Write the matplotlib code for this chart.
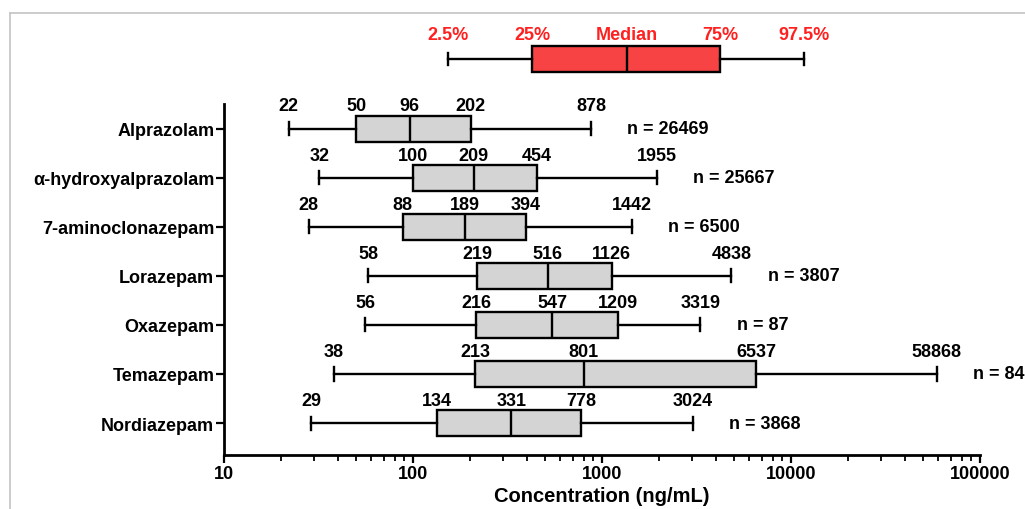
import matplotlib
matplotlib.use("Agg")
import matplotlib.pyplot as plt
from matplotlib.lines import Line2D

plt.rcParams['font.family'] = ['Liberation Sans', 'DejaVu Sans']
plt.rcParams['font.weight'] = 'bold'

drugs = ["Alprazolam", "α-hydroxyalprazolam", "7-aminoclonazepam", "Lorazepam",
         "Oxazepam", "Temazepam", "Nordiazepam"]
p2_5 = [22, 32, 28, 58, 56, 38, 29]
p25 = [50, 100, 88, 219, 216, 213, 134]
median = [96, 209, 189, 516, 547, 801, 331]
p75 = [202, 454, 394, 1126, 1209, 6537, 778]
p97_5 = [878, 1955, 1442, 4838, 3319, 58868, 3024]
n_counts = [26469, 25667, 6500, 3807, 87, 84, 3868]

legend_labels = ["2.5%", "25%", "Median", "75%", "97.5%"]
legend_values = [153, 427, 1355, 4208, 11720]

FS = 13
fig = plt.figure(figsize=(10.25, 5.1), dpi=100)
W, H = 1025, 510
ax = fig.add_axes([224 / W, (H - 456) / H, (980 - 224) / W, (456 - 105) / H])

stats = []
for i, d in enumerate(drugs):
    stats.append(dict(whislo=p2_5[i], q1=p25[i], med=median[i], q3=p75[i],
                      whishi=p97_5[i], label=d))

lw = 1.7
ax.bxp(stats, positions=range(len(drugs)), widths=0.53, orientation='horizontal',
       showfliers=False, patch_artist=True,
       boxprops=dict(facecolor='#d4d4d4', edgecolor='black', linewidth=lw),
       medianprops=dict(color='black', linewidth=lw),
       whiskerprops=dict(color='black', linewidth=lw),
       capprops=dict(color='black', linewidth=lw))

ax.set_xscale('log')
ax.set_xlim(10, 100000)
ax.set_ylim(6.65, -0.5)
ax.set_yticks(range(len(drugs)))
ax.set_yticklabels(drugs, fontsize=FS, fontweight='bold')
ax.set_xticks([10, 100, 1000, 10000, 100000])
ax.set_xticklabels(["10", "100", "1000", "10000", "100000"], fontsize=FS, fontweight='bold')
ax.set_xlabel("Concentration (ng/mL)", fontsize=14.5, fontweight='bold', labelpad=3)
for s in ['top', 'right']:
    ax.spines[s].set_visible(False)
for s in ['left', 'bottom']:
    ax.spines[s].set_linewidth(2)
ax.tick_params(axis='y', length=6, width=1.6, pad=1)
ax.tick_params(axis='x', which='major', length=6, width=1.6, pad=1)
ax.tick_params(axis='x', which='minor', length=4, width=1.3)

for i in range(len(drugs)):
    for v in (p2_5[i], p25[i], median[i], p75[i], p97_5[i]):
        ax.text(v, i - 0.46, str(v), ha='center', va='center', fontsize=FS,
                fontweight='bold')
    ax.annotate(f"n = {n_counts[i]}", xy=(p97_5[i], i), xytext=(26, 0),
                textcoords='offset points', ha='left', va='center',
                fontsize=FS, fontweight='bold')

# legend schematic (same scale as main axis)
lax = fig.add_axes([224 / W, (H - 100) / H, (980 - 224) / W, 80 / H])
lax.set_xscale('log')
lax.set_xlim(10, 100000)
lax.set_ylim(0.816, -0.816)
lax.bxp([dict(whislo=legend_values[0], q1=legend_values[1], med=legend_values[2],
              q3=legend_values[3], whishi=legend_values[4])],
        positions=[0], widths=0.53, orientation='horizontal',
        showfliers=False, patch_artist=True,
        boxprops=dict(facecolor='#f74343', edgecolor='black', linewidth=lw),
        medianprops=dict(color='black', linewidth=lw),
        whiskerprops=dict(color='black', linewidth=lw),
        capprops=dict(color='black', linewidth=lw))
for lbl, v in zip(legend_labels, legend_values):
    lax.text(v, -0.5, lbl, ha='center', va='center', color='#ff2020',
             fontsize=FS, fontweight='bold')
lax.axis('off')

# frame lines
fig.add_artist(Line2D([10 / W, 1.0], [1 - 14 / H, 1 - 14 / H], color='#c4c4c4', lw=1.2))
fig.add_artist(Line2D([10 / W, 10 / W], [0, 1 - 14 / H], color='#c4c4c4', lw=1.2))

fig.savefig("out.png", dpi=100)
